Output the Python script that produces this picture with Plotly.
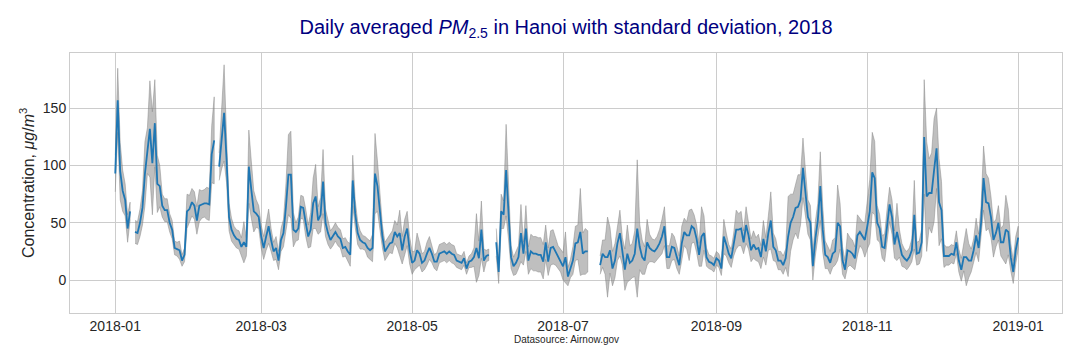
import pandas as pd
import plotly.graph_objects as go

N = None
# Daily mean PM2.5 (µg/m3), 2018-01-01 .. 2019-01-01
mean_pm25 = [
    93, 157, 95, 78, 70, 45, 60, N, 42, 41,
    50, 63, 93, 113, 132, 102, 137, 84, 82, 65,
    61, 61, 50, 44, 28, 27, 26, 17, 22, 60,
    62, 68, 65, 52, 65, 66, 67, 67, 66, 110,
    122, N, 99, 122, 146, 105, 55, 44, 39, 36,
    35, 29, 33, 29, 99, 79, 60, 58, 55, 38,
    28, 38, 47, 35, 25, 28, 17, 35, 41, 64,
    92, 92, 44, 42, 45, 64, 63, 50, 38, 44,
    67, 73, 52, 57, 86, 50, 41, 35, 38, 42,
    38, 36, 28, 29, 25, 22, 87, 58, 41, 35,
    33, 32, 28, 26, 28, 93, 82, 61, 38, 25,
    28, 32, 33, 42, 38, 41, 26, 38, 45, 26,
    15, 17, 26, 23, 15, 17, 23, 28, 23, 16,
    16, 23, 24, 25, 23, 25, 23, 22, 17, 16,
    15, 19, 10, 16, 17, 20, 28, 19, 44, 17,
    21, 22, N, N, 33, 7, 60, 57, 96, 55,
    20, 12, 15, 20, 41, 23, 45, 17, 25, 23,
    23, 22, 22, 16, 33, 16, 28, 29, 25, 20,
    17, 12, 20, 3, 10, 17, 32, 33, 42, 23,
    25, 25, N, N, N, N, 13, 23, 20, 20,
    26, 10, 17, 32, 41, 25, 9, 23, 15, 17,
    23, 45, 29, 20, 17, 33, 28, 26, 25, 28,
    32, 38, 47, 20, 20, 29, 28, 20, 13, 32,
    42, 39, 39, 47, 45, 36, 22, 38, 41, 20,
    16, 15, 13, 19, 17, 10, 38, 31, 23, 19,
    31, 44, 44, 45, 33, 48, 39, 26, 31, 27,
    28, 20, 36, 25, 41, 52, 29, 26, 17, 17,
    13, 19, 38, 50, 55, 63, 64, 70, 98, 76,
    55, 50, 12, 36, 52, 82, 44, 22, 20, 15,
    23, 25, 50, 47, 17, 9, 26, 25, 23, 19,
    39, 42, 39, 35, 47, 60, 94, 89, 50, 45,
    29, 28, 47, 66, 55, 31, 42, 32, 22, 19,
    17, 20, 26, 57, 23, 24, 33, 125, 73, 76,
    76, 96, 115, 68, 61, 21, 21, 21, 23, 22,
    33, 17, 9, 20, 20, 17, 17, 26, 39, 28,
    50, 89, 68, 67, 55, 35, 41, 50, 33, 33,
    44, 42, 20, 7, 26, 37,
]
# Daily standard deviation
std_pm25 = [
    16, 28, 25, 18, 14, 12, 8, N, 10, 10,
    12, 15, 28, 20, 42, 45, 38, 25, 18, 10,
    10, 10, 8, 8, 6, 6, 8, 5, 6, 15,
    12, 12, 12, 12, 14, 12, 12, 14, 14, 25,
    38, N, 12, 25, 42, 20, 12, 10, 8, 8,
    8, 8, 18, 8, 32, 25, 18, 12, 10, 10,
    10, 12, 15, 10, 8, 10, 8, 10, 12, 20,
    35, 38, 15, 8, 10, 10, 10, 12, 10, 15,
    22, 28, 12, 15, 28, 12, 10, 8, 8, 8,
    8, 8, 8, 8, 8, 10, 22, 12, 10, 8,
    6, 6, 8, 8, 12, 35, 22, 15, 10, 8,
    8, 8, 10, 10, 10, 20, 12, 15, 15, 12,
    10, 8, 15, 10, 8, 8, 10, 10, 8, 6,
    8, 8, 8, 8, 8, 8, 8, 8, 6, 6,
    6, 6, 5, 5, 6, 8, 30, 15, 25, 10,
    5, 5, N, N, 12, 10, 15, 12, 40, 20,
    10, 8, 10, 10, 25, 10, 20, 12, 15, 15,
    15, 15, 15, 15, 15, 12, 15, 15, 12, 10,
    10, 12, 22, 8, 8, 12, 15, 15, 38, 18,
    20, 18, N, N, N, N, 8, 12, 15, 35,
    20, 15, 15, 15, 20, 12, 18, 25, 15, 15,
    20, 60, 20, 15, 12, 20, 12, 10, 10, 10,
    12, 15, 17, 10, 10, 12, 10, 10, 8, 15,
    12, 12, 22, 15, 12, 12, 10, 26, 15, 8,
    6, 6, 6, 6, 6, 6, 15, 10, 8, 8,
    10, 17, 14, 15, 10, 16, 12, 10, 12, 10,
    12, 10, 16, 12, 15, 25, 12, 10, 8, 8,
    8, 8, 35, 25, 20, 22, 28, 22, 26, 20,
    15, 15, 12, 15, 15, 30, 20, 12, 10, 10,
    12, 12, 33, 20, 12, 8, 15, 12, 12, 10,
    18, 12, 12, 15, 20, 28, 35, 32, 15, 12,
    10, 12, 15, 15, 15, 12, 25, 12, 10, 8,
    8, 8, 10, 30, 10, 10, 12, 50, 48, 30,
    35, 45, 35, 38, 25, 10, 8, 8, 8, 8,
    10, 10, 10, 12, 25, 15, 10, 10, 15, 12,
    15, 28, 25, 22, 18, 15, 12, 15, 12, 15,
    30, 20, 12, 10, 12, 10,
]
dates = pd.date_range("2018-01-01", periods=len(mean_pm25), freq="D")
x_ticks = pd.date_range("2018-01-01", "2019-01-01", freq="2MS")
y_ticks = [0, 50, 100, 150]

df = pd.DataFrame({"date": dates, "mean": mean_pm25, "std": std_pm25})
df["lo"] = df["mean"] - df["std"]
df["hi"] = df["mean"] + df["std"]
df["seg"] = df["mean"].isna().cumsum()

fig = go.Figure()
# shaded +/- std band, one polygon per contiguous run of data
for _, g in df.dropna().groupby("seg"):
    xs = list(g["date"]) + list(g["date"])[::-1]
    ys = list(g["hi"]) + list(g["lo"])[::-1]
    fig.add_trace(go.Scatter(
        x=xs, y=ys, mode="lines", fill="toself",
        fillcolor="rgba(128,128,128,0.5)",
        line=dict(color="rgba(128,128,128,0.45)", width=1),
        hoverinfo="skip", showlegend=False))

fig.add_trace(go.Scatter(
    x=df["date"], y=df["mean"], mode="lines",
    line=dict(color="#1f77b4", width=1.8), connectgaps=False,
    showlegend=False))

grid = "#cccccc"
W, H = 1072, 352  # page body has an 8px margin
fig.update_layout(
    width=W, height=H,
    margin=dict(l=62, r=18, t=45, b=47),
    paper_bgcolor="white", plot_bgcolor="white",
    font=dict(family="Liberation Sans, Arial, sans-serif", color="#262626", size=14),
    title=dict(
        text="Daily averaged <i>PM</i><sub>2.5</sub> in Hanoi with standard deviation, 2018",
        x=0.5, xref="paper", xanchor="center",
        y=1 - 19 / H, yref="container", yanchor="middle",
        font=dict(size=20, color="#000080")),
    xaxis=dict(
        range=["2017-12-13 17:00", "2019-01-18 17:00"],
        tickvals=list(x_ticks), ticktext=[d.strftime("%Y-%m") for d in x_ticks],
        showgrid=True, gridcolor=grid, gridwidth=1,
        showline=True, linecolor=grid, linewidth=1, mirror=True,
        zeroline=False, ticks="", tickfont=dict(size=14, color="#262626")),
    yaxis=dict(
        range=[-28.8, 198.3], tickvals=y_ticks,
        showgrid=True, gridcolor=grid, gridwidth=1,
        showline=True, linecolor=grid, linewidth=1, mirror=True,
        zeroline=False, ticks="", tickfont=dict(size=14, color="#262626")),
    annotations=[
        dict(text="Concentration, <i>μg</i>/<i>m</i><sup>3</sup>",
             xref="paper", yref="paper", x=(27 - 70) / 992, y=0.5,
             xanchor="center", yanchor="middle", textangle=-90,
             showarrow=False, font=dict(size=16, color="#262626")),
        dict(text="Datasource: Airnow.gov",
             xref="paper", yref="paper", x=0.5, y=(313 - 339) / 260,
             xanchor="center", yanchor="middle",
             showarrow=False, font=dict(size=10, color="#262626")),
    ],
)

fig.write_html("out.html")
